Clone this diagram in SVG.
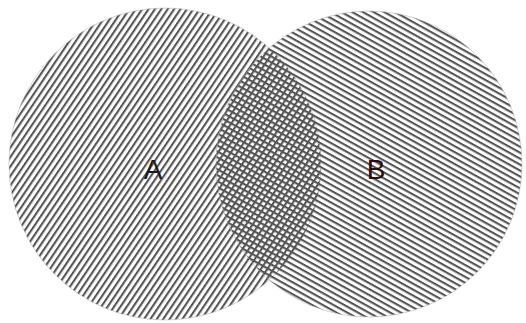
<svg xmlns="http://www.w3.org/2000/svg" width="526" height="323" viewBox="0 0 526 323">
<style>
.lbl{font-family:"Liberation Sans",Arial,sans-serif;font-size:28px;text-anchor:middle}
.edge{fill:none;stroke:#aaa;stroke-width:1;stroke-opacity:0.5}
</style>
<defs>
<pattern id="hatchA" width="6" height="5.3" patternUnits="userSpaceOnUse" patternTransform="rotate(-56)">
<rect x="0" y="0" width="6" height="2.1" fill="#555555"/>
</pattern>
<pattern id="hatchB" width="6" height="5.2" patternUnits="userSpaceOnUse" patternTransform="rotate(29)">
<rect x="0" y="0" width="6" height="2.1" fill="#555555"/>
</pattern>
</defs>
<rect width="526" height="323" fill="#ffffff"/>
<g id="nodeA">
<circle cx="165" cy="164" r="156" fill="url(#hatchA)"/>
<circle class="edge" cx="165" cy="164" r="156"/>
</g>
<g id="nodeB">
<circle cx="369" cy="164" r="153" fill="url(#hatchB)"/>
<circle class="edge" cx="369" cy="164" r="153"/>
</g>
<g id="connectors"></g>
<g id="labels">
<text class="lbl" x="153" y="179" fill="#1a1a1a">A</text>
<text class="lbl" x="376" y="179" fill="#2a0a0a">B</text>
</g>
</svg>
